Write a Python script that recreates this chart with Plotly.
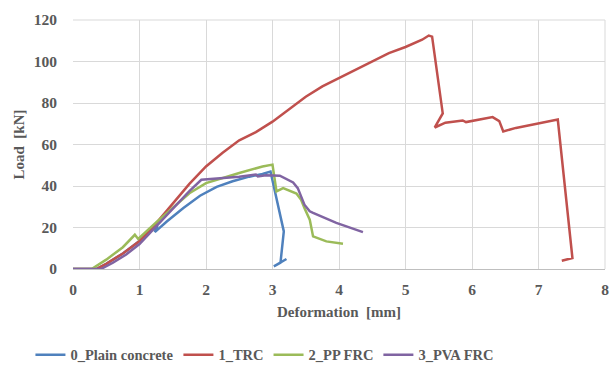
import plotly.graph_objects as go

plain_x = [0, 0.35, 0.5, 0.75, 1.0, 1.15, 1.27, 1.23, 1.41, 1.66, 1.91, 2.16, 2.4, 2.65, 2.85, 2.97,
           3.17, 3.12, 3.02, 3.21]
plain_y = [0, 0, 2.5, 7.5, 13.5, 18.0, 21, 17.8, 22.9, 29.4, 35.3, 39.6, 42.3, 44.5, 45.8, 47,
           18.1, 3.0, 1.3, 4.8]

trc_x = [0, 0.35, 0.5, 0.75, 1.0, 1.25, 1.5, 1.75, 2.0, 2.25, 2.5, 2.75, 3.0, 3.25, 3.5, 3.75, 4.0,
         4.25, 4.5, 4.75, 5.0, 5.25, 5.35, 5.4, 5.56, 5.44, 5.6, 5.86, 5.91, 6.1, 6.31, 6.41, 6.47,
         6.66, 7.01, 7.29, 7.51, 7.35]
trc_y = [0, 0, 2.5, 7.5, 13.5, 22, 31.5, 41, 49.4, 56, 62, 66, 71, 77, 83, 88, 92,
         96, 100, 104, 107, 110.5, 112.5, 112, 75, 68.2, 70.5, 71.6, 70.8, 72, 73.2, 71.3, 66.3,
         68, 70.4, 72, 5.3, 4.0]

pp_x = [0, 0.28, 0.5, 0.75, 0.93, 0.98, 1.25, 1.5, 1.75, 2.0, 2.25, 2.5, 2.85, 3.0, 3.06, 3.16,
        3.36, 3.43, 3.48, 3.56, 3.61, 3.81, 4.06]
pp_y = [0, 0, 4.5, 10.5, 16.5, 14.5, 22.5, 29.5, 36.5, 41.4, 44, 46.3, 49.4, 50.3, 37.4, 39,
        36.4, 33.4, 29.4, 23.8, 15.7, 13.3, 12.2]

pva_x = [0, 0.42, 0.6, 0.8, 1.0, 1.25, 1.5, 1.75, 1.93, 2.25, 2.5, 2.75, 2.78, 2.9, 3.11,
         3.31, 3.38, 3.43, 3.48, 3.56, 3.61, 3.96, 4.36]
pva_y = [0, 0, 3, 7, 12, 20.5, 29.5, 37.5, 43, 43.8, 44.5, 45.5, 44.6, 45.2, 45,
         41.7, 39, 35, 31, 27.8, 27, 22.2, 17.8]

series = [
    ("0_Plain concrete", plain_x, plain_y, "#4F81BD"),
    ("1_TRC", trc_x, trc_y, "#C0504D"),
    ("2_PP FRC", pp_x, pp_y, "#9BBB59"),
    ("3_PVA FRC", pva_x, pva_y, "#8064A2"),
]

x_ticks = [0, 1, 2, 3, 4, 5, 6, 7, 8]
y_ticks = [0, 20, 40, 60, 80, 100, 120]

fig = go.Figure()
for name, xs, ys, col in series:
    fig.add_trace(go.Scatter(x=xs, y=ys, mode="lines", name=name,
                             line=dict(color=col, width=2.5)))

tick_font = dict(family="Liberation Serif", size=15.5, color="#595959", weight="bold")
title_font = dict(family="Liberation Serif", size=15, color="#595959", weight="bold")
legend_font = dict(family="Liberation Serif", size=14.5, color="#595959", weight="bold")
fig.update_layout(
    width=615, height=370,
    margin=dict(l=73, r=10, t=20, b=101, autoexpand=False),
    paper_bgcolor="white", plot_bgcolor="white",
    font=tick_font,
    xaxis=dict(range=[0, 8], tickvals=x_ticks, showgrid=True, gridcolor="#D9D9D9",
               gridwidth=1, zeroline=False, showline=True, linecolor="#BFBFBF",
               title=dict(text="Deformation\u00a0\u00a0[mm]", font=title_font, standoff=9),
               tickfont=tick_font, ticks="", ticklabelstandoff=6, automargin=False),
    yaxis=dict(range=[0, 120], tickvals=y_ticks, showgrid=True, gridcolor="#D9D9D9",
               gridwidth=1, zeroline=False, showline=False,
               title=dict(text="Load\u00a0\u00a0[kN]", font=title_font, standoff=5),
               tickfont=tick_font, ticks="", ticklabelstandoff=15, automargin=False),
    legend=dict(orientation="h", x=-0.08, xanchor="left",
                y=-0.345, yanchor="middle",
                font=legend_font, bgcolor="rgba(0,0,0,0)"),
    showlegend=True,
)
fig.add_shape(type="line", xref="paper", yref="paper", x0=1, x1=1, y0=0, y1=1,
              line=dict(color="#D9D9D9", width=1))
fig.add_shape(type="line", xref="paper", yref="paper", x0=0, x1=1, y0=1, y1=1,
              line=dict(color="#D9D9D9", width=1))

fig.write_html("out.html", config={"displayModeBar": False},
               post_script="document.body.style.margin='0px';")
